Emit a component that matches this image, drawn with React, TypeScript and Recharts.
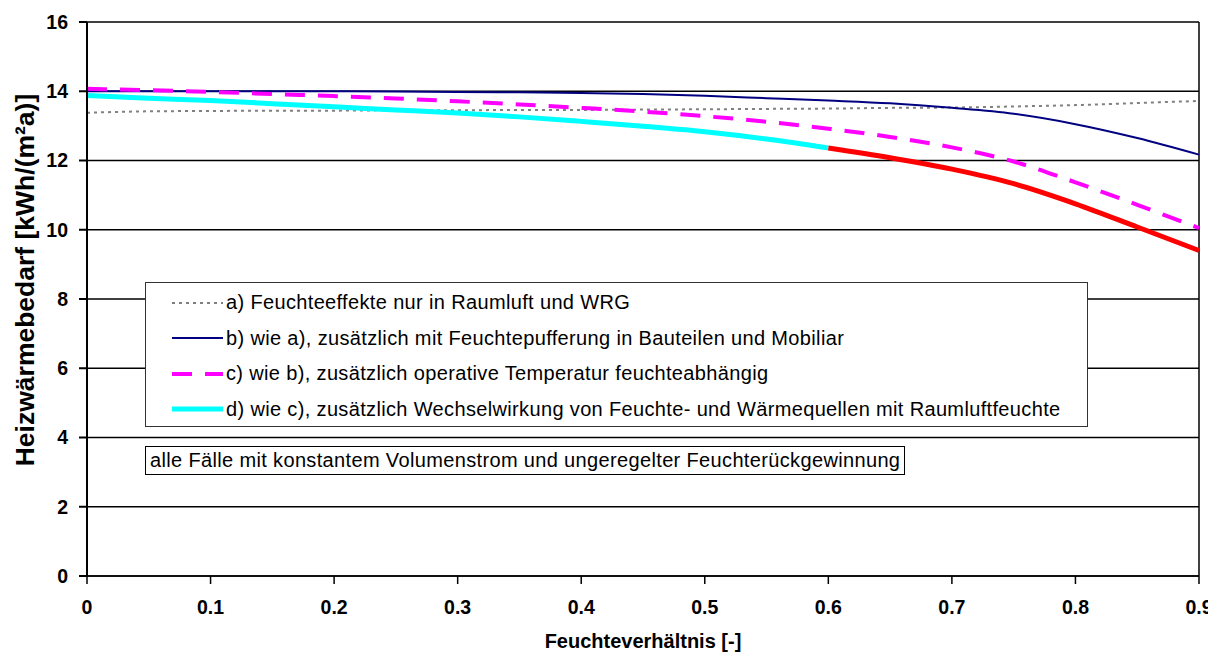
import {
  LineChart,
  Line,
  XAxis,
  YAxis,
  CartesianGrid,
  ReferenceLine,
} from "recharts";

// Feuchteverhältnis [-]
const xValues = [0, 0.05, 0.1, 0.15, 0.2, 0.25, 0.3, 0.35, 0.4, 0.45, 0.5, 0.55, 0.6, 0.65, 0.7, 0.75, 0.8, 0.85, 0.9];

// a) Feuchteeffekte nur in Raumluft und WRG
const seriesA = [13.38, 13.42, 13.43, 13.44, 13.44, 13.45, 13.45, 13.46, 13.46, 13.47, 13.48, 13.49, 13.5, 13.52, 13.53, 13.56, 13.6, 13.66, 13.72];
// b) wie a), zusätzlich mit Feuchtepufferung in Bauteilen und Mobiliar
const seriesB = [14.0, 14.0, 14.0, 14.0, 14.0, 13.99, 13.98, 13.97, 13.95, 13.92, 13.87, 13.8, 13.73, 13.65, 13.52, 13.35, 13.05, 12.65, 12.17];
// c) wie b), zusätzlich operative Temperatur feuchteabhängig
const seriesC = [14.07, 14.03, 13.98, 13.92, 13.86, 13.79, 13.71, 13.62, 13.52, 13.41, 13.28, 13.12, 12.92, 12.68, 12.38, 11.97, 11.37, 10.72, 10.05];
// d) wie c), zusätzlich Wechselwirkung ... (bis 0.6)
const seriesD = [13.88, 13.8, 13.73, 13.64, 13.55, 13.46, 13.37, 13.26, 13.13, 12.99, 12.83, 12.62, 12.36, null, null, null, null, null, null];
// Fortsetzung von d) ab 0.6 (rot)
const seriesE = [null, null, null, null, null, null, null, null, null, null, null, null, 12.36, 12.08, 11.75, 11.33, 10.75, 10.08, 9.4];

const xTicks = [0, 0.1, 0.2, 0.3, 0.4, 0.5, 0.6, 0.7, 0.8, 0.9];
const yTicks = [0, 2, 4, 6, 8, 10, 12, 14, 16];

const legendItems = [
  { label: "a) Feuchteeffekte nur in Raumluft und WRG", color: "#808080", width: 2, dash: "3 4" },
  { label: "b) wie a), zusätzlich mit Feuchtepufferung in Bauteilen und Mobiliar", color: "#000080", width: 2, dash: "" },
  { label: "c) wie b), zusätzlich operative Temperatur feuchteabhängig", color: "#FF00FF", width: 4, dash: "20 13" },
  { label: "d) wie c), zusätzlich Wechselwirkung von Feuchte- und Wärmequellen mit Raumluftfeuchte", color: "#00FFFF", width: 5, dash: "" },
];

const note = "alle Fälle mit konstantem Volumenstrom und ungeregelter Feuchterückgewinnung";

const data = xValues.map((x, i) => ({
  x,
  a: seriesA[i],
  b: seriesB[i],
  c: seriesC[i],
  d: seriesD[i],
  e: seriesE[i],
}));

const font = "'Liberation Sans', Arial, sans-serif";

const YTitle = () => (
  <text
    x={17}
    y={272}
    transform="rotate(-90, 17, 272)"
    textAnchor="middle"
    dominantBaseline="central"
    fontFamily={font}
    fontWeight="bold"
    fontSize={26.5}
    fill="#000"
  >
    Heizwärmebedarf [kWh/(m²a)]
  </text>
);

const tickStyle = { fontFamily: font, fontWeight: "bold" as const, fontSize: 19.5, fill: "#000" };

export default function App() {
  return (
    <div style={{ position: "relative", width: 1208, height: 644 }}>
      <LineChart width={1208} height={644} data={data} margin={{ top: 14, right: 17, left: 0, bottom: 0 }}>
        <CartesianGrid horizontal vertical={false} stroke="#000" strokeWidth={1.3} />
        <XAxis
          dataKey="x"
          type="number"
          domain={[0, 0.9]}
          ticks={xTicks}
          interval={0}
          height={76}
          tick={tickStyle}
          tickSize={8}
          tickMargin={16}
          stroke="#000"
          strokeWidth={1.5}
          label={{
            value: "Feuchteverhältnis [-]",
            position: "insideBottom",
            offset: 4,
            style: { fontFamily: font, fontWeight: "bold", fontSize: 20, fill: "#000" },
          }}
        />
        <YAxis
          type="number"
          domain={[0, 16]}
          ticks={yTicks}
          interval={0}
          width={79}
          tick={tickStyle}
          tickSize={8}
          tickMargin={11}
          stroke="#000"
          strokeWidth={2}
          label={<YTitle />}
        />
        <ReferenceLine x={0.9} stroke="#000" strokeWidth={1.5} />
        <Line type="monotone" dataKey="a" stroke="#808080" strokeWidth={2} strokeDasharray="3 4" dot={false} isAnimationActive={false} />
        <Line type="monotone" dataKey="b" stroke="#000080" strokeWidth={2} dot={false} isAnimationActive={false} />
        <Line type="monotone" dataKey="c" stroke="#FF00FF" strokeWidth={4} strokeDasharray="20 13" dot={false} isAnimationActive={false} />
        <Line type="monotone" dataKey="d" stroke="#00FFFF" strokeWidth={5} dot={false} isAnimationActive={false} />
        <Line type="monotone" dataKey="e" stroke="#FF0000" strokeWidth={5} dot={false} isAnimationActive={false} />
      </LineChart>

      {/* legend box */}
      <div
        style={{
          position: "absolute",
          left: 137,
          top: 274,
          width: 941,
          height: 141,
          paddingTop: 2,
          border: "1px solid #333",
          background: "#fff",
          fontFamily: font,
          fontSize: 20,
          letterSpacing: 0.35,
          color: "#000",
        }}
      >
        {legendItems.map((it) => (
          <div key={it.label} style={{ display: "flex", alignItems: "center", height: 35.5, whiteSpace: "nowrap" }}>
            <svg width={54} height={10} style={{ marginLeft: 25, marginRight: 1, flex: "none" }}>
              <line x1={1} y1={5} x2={52} y2={5} stroke={it.color} strokeWidth={it.width} strokeDasharray={it.dash} />
            </svg>
            <span>{it.label}</span>
          </div>
        ))}
      </div>

      {/* note box */}
      <div
        style={{
          position: "absolute",
          left: 137,
          top: 438,
          border: "1px solid #000",
          background: "#fff",
          fontFamily: font,
          fontSize: 20,
          letterSpacing: 0.35,
          lineHeight: "27px",
          padding: "0 4px 0 4px",
          whiteSpace: "nowrap",
          color: "#000",
        }}
      >
        {note}
      </div>
    </div>
  );
}
